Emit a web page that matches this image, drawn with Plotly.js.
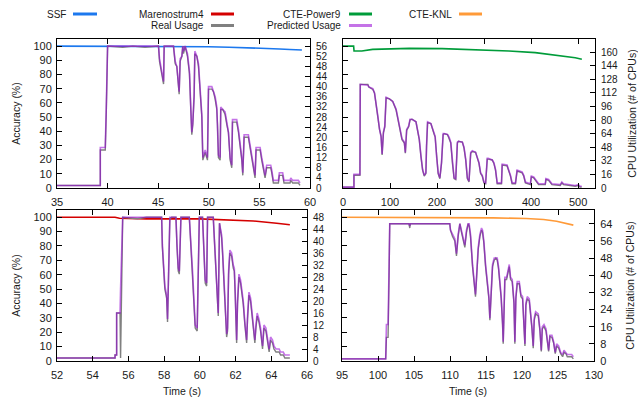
<!DOCTYPE html>
<html><head><meta charset="utf-8">
<script src="https://cdn.plot.ly/plotly-3.0.1.min.js"></script>
<style>html,body{margin:0;padding:0;background:#fff}#chart{width:638px;height:398px}</style>
</head><body><div id="chart"></div>
<script>
// ---------- Data ----------
const seriesNames = ["SSF", "Marenostrum4", "CTE-Power9", "CTE-KNL", "Real Usage", "Predicted Usage"];

// SSF (top-left)
const ssfAccTime = [35, 40, 45, 48, 50, 52, 54, 55, 56, 57, 58, 59.2];
const ssfAcc = [100, 100, 100, 99.8, 99.5, 99.2, 98.9, 98.7, 98.4, 98, 97.6, 97.2];
const ssfTime = [35, 39.28, 39.28, 39.77, 39.87, 40.0, 41.5, 42.5, 43.7, 45.03, 45.13, 45.36, 45.53, 45.59, 46.51, 46.68, 46.84, 47.07, 47.17, 47.34, 47.43, 47.5, 47.66, 47.89, 48.09, 48.22, 48.32, 48.42, 48.55, 48.62, 48.82, 48.98, 49.14, 49.31, 49.41, 49.64, 49.87, 49.97, 50.3, 50.46, 50.63, 50.79, 50.86, 50.95, 51.12, 51.18, 51.38, 51.61, 51.78, 51.94, 52.11, 52.27, 52.34, 52.76, 52.93, 53.09, 53.26, 53.36, 53.49, 53.91, 54.08, 54.24, 54.41, 54.57, 54.67, 55.07, 55.23, 55.39, 55.56, 55.72, 56.12, 56.22, 56.38, 56.88, 56.97, 57.3, 57.43, 58.03, 58.1, 58.29, 58.85, 59.01];
const ssfReal = [1, 1, 15, 15, 30, 56, 55.5, 56, 55.5, 56, 50, 45, 41, 56, 56, 49, 48, 37, 50, 52, 56, 53, 56, 52, 45, 31, 21, 25, 36, 53, 52, 48, 39, 28, 11, 14, 11, 39, 39, 38, 35, 31, 25, 12, 11, 31, 31, 29, 25, 22, 11, 8, 26, 26, 22, 17, 11, 5, 20, 20, 16, 11, 7, 4, 15, 15, 11, 7, 4, 8, 8, 6, 2, 2, 5, 5, 2, 2, 3, 2, 2, 1];
const ssfPred = [1, 1, 16, 16, 32, 56, 56, 56, 56, 56, 51, 46, 42, 56, 56, 50, 48, 38, 51, 52, 56, 54, 56, 53, 46, 32, 22, 26, 37, 54, 52, 49, 40, 29, 12, 15, 12, 40, 40, 38, 36, 32, 26, 13, 12, 32, 31, 30, 26, 22, 12, 9, 27, 27, 23, 18, 12, 6, 21, 21, 17, 12, 8, 5, 16, 16, 12, 8, 5, 9, 9, 7, 3, 3, 6, 6, 3, 3, 4, 3, 3, 2];

// CTE-Power9 (top-right)
const p9AccTime = [0, 22.6, 23.5, 40, 63, 141, 211, 282, 353, 409, 459, 494, 508];
const p9Acc = [100, 100, 96.5, 96.5, 97.7, 98.4, 98.2, 97.5, 96.5, 95.4, 93.5, 91.8, 90.7];
const p9Time = [0, 23.3, 23.3, 36, 36.7, 52.9, 55, 63.5, 67, 70.5, 74, 77.6, 81, 83.2, 86, 88.9, 91.7, 98.7, 105.8, 112.9, 118.5, 121.3, 125.5, 130.5, 132.6, 135.4, 139.7, 142.5, 146.7, 155.2, 158.7, 162.2, 165.8, 169.3, 172.8, 176.3, 177.7, 179.9, 186.9, 190.4, 194, 196, 198.9, 202.4, 206, 209.5, 213, 215.1, 222.2, 225.7, 229.2, 232.8, 236.3, 239.8, 243.3, 245.5, 253.9, 257.4, 261, 264.5, 268, 271.6, 275, 282, 285.7, 289.2, 292.7, 296.2, 299.8, 303.3, 306.8, 308.9, 317.4, 320.9, 324.4, 328, 337.1, 338.6, 349, 352.7, 356.2, 359.7, 366.8, 370.3, 380.9, 384.4, 388, 398.5, 400.6, 405.6, 409, 416, 430.2, 431.7, 437.3, 444.4, 462, 465.5, 469, 479.6, 493.7, 500.8, 504.3, 507.8];
const p9Real = [1, 1, 15, 15, 122, 122, 119, 116, 112, 100, 84, 69, 61, 39, 65, 72, 106, 105, 102, 92, 76, 70, 57, 53, 41, 68, 72, 80, 81, 78, 68, 57, 37, 21, 14, 17, 49, 77, 76, 68, 63, 60, 37, 17, 11, 29, 63, 64, 63, 59, 53, 29, 11, 10, 53, 55, 54, 47, 33, 11, 7, 41, 43, 42, 35, 29, 17, 14, 6, 5, 34, 34, 33, 29, 21, 5, 5, 27, 26, 20, 14, 5, 5, 20, 18, 14, 6, 4, 13, 12, 9, 4, 4, 10, 9, 4, 3, 6, 4, 3, 2, 3, 1, 1];
const p9Pred = [1, 1, 16, 16, 122, 121, 119, 117, 112, 101, 85, 70, 60, 40, 66, 73, 107, 105, 102, 93, 77, 70, 58, 54, 42, 69, 73, 81, 81, 78, 69, 58, 38, 22, 15, 18, 50, 78, 76, 69, 64, 61, 38, 18, 12, 30, 64, 64, 63, 60, 54, 30, 12, 11, 54, 55, 54, 48, 34, 12, 8, 42, 44, 42, 36, 30, 18, 15, 7, 6, 35, 35, 33, 30, 22, 6, 6, 28, 27, 21, 15, 6, 6, 21, 19, 15, 7, 5, 14, 13, 10, 5, 5, 11, 10, 5, 4, 7, 5, 4, 3, 4, 2, 2];

// Marenostrum4 (bottom-left)
const mnAccTime = [52, 55.25, 55.5, 57, 60, 61.9, 63, 64.3, 65.04];
const mnAcc = [100, 100, 99.3, 98.8, 98.8, 98.1, 97.4, 95.8, 94.7];
const mnTime = [52, 55.25, 55.25, 55.34, 55.34, 55.53, 55.56, 55.68, 56.5, 57, 57.86, 57.9, 57.99, 58.04, 58.14, 58.19, 58.25, 58.29, 58.32, 58.42, 58.66, 58.72, 58.79, 58.85, 58.9, 58.94, 59.41, 59.48, 59.59, 59.69, 59.74, 59.85, 59.93, 59.97, 60.15, 60.23, 60.3, 60.38, 60.43, 60.75, 60.84, 60.9, 60.97, 61.03, 61.1, 61.22, 61.27, 61.35, 61.44, 61.5, 61.55, 61.61, 61.68, 61.78, 61.87, 61.93, 61.98, 62.02, 62.06, 62.11, 62.19, 62.28, 62.34, 62.43, 62.52, 62.62, 62.67, 62.75, 62.84, 62.93, 63.03, 63.08, 63.14, 63.21, 63.31, 63.4, 63.51, 63.59, 63.7, 63.79, 63.88, 63.96, 64.07, 64.15, 64.26, 64.33, 64.44, 64.52, 64.67, 64.76, 65.04];
const mnReal = [1, 1, 2, 2, 16, 16, 1, 48, 47.5, 48, 48, 38, 29, 24, 21, 13, 29, 43, 47.5, 48, 48, 38, 30, 29, 46, 48, 48, 41, 29, 17, 11, 10, 29, 48, 48, 34, 26, 25, 48, 48, 38, 29, 22, 15, 46, 41, 36, 26, 17, 8, 10, 29, 36, 35, 31, 30, 22, 12, 6, 19, 28, 26, 23, 19, 12, 6, 14, 22, 20, 15, 10, 6, 11, 15, 13, 10, 4, 11, 10, 6, 3, 7, 6, 4, 3, 3, 3, 2, 2, 1, 1];
const mnPred = [1, 1, 2, 2, 16, 16, 24, 48, 48, 48, 48, 39, 30, 25, 22, 14, 30, 44, 48, 48, 48, 39, 31, 30, 47, 48, 48, 42, 30, 18, 12, 11, 30, 48, 48, 35, 27, 26, 48, 48, 39, 30, 23, 16, 46, 42, 37, 27, 18, 9, 11, 30, 37, 36, 32, 31, 23, 13, 7, 20, 29, 27, 24, 20, 13, 7, 15, 23, 21, 16, 11, 7, 12, 16, 14, 11, 5, 12, 11, 7, 4, 8, 7, 5, 4, 4, 4, 3, 3, 2, 2];

// CTE-KNL (bottom-right)
const knlAccTime = [95, 102.1, 109, 116, 120.6, 123, 124.8, 126.2, 127.13];
const knlAcc = [100, 100, 99.9, 99.5, 99.1, 98.4, 97.2, 95.6, 94.5];
const knlTime = [95, 101.07, 101.17, 101.4, 101.54, 101.63, 104.3, 104.41, 104.5, 109.97, 110.07, 110.35, 110.67, 110.9, 111.13, 111.37, 111.6, 111.83, 112.06, 112.29, 112.52, 112.66, 112.85, 113.13, 113.31, 113.54, 113.68, 113.92, 114.15, 114.38, 114.52, 114.7, 114.94, 115.17, 115.4, 115.54, 115.68, 115.91, 116.14, 116.37, 116.56, 116.74, 116.93, 117.11, 117.3, 117.39, 117.53, 117.62, 117.86, 118.09, 118.23, 118.41, 118.64, 118.88, 119.01, 119.15, 119.34, 119.62, 119.85, 120.08, 120.27, 120.41, 120.54, 120.73, 121.01, 121.19, 121.38, 121.56, 121.7, 121.89, 122.26, 122.49, 122.68, 122.82, 123.05, 123.33, 123.51, 123.7, 123.88, 124.16, 124.39, 124.62, 124.81, 125.09, 125.37, 125.64, 125.83, 126.11, 126.29, 126.9, 127.13];
const knlReal = [1, 1, 11, 11, 40, 64, 64, 62, 64, 64, 61, 58, 56, 49, 58, 64, 60, 57, 53, 60, 64, 63, 58, 44, 38, 30, 38, 52, 58, 61, 60, 55, 44, 36, 29, 19, 32, 44, 47, 48, 47, 43, 36, 29, 17, 8, 26, 38, 38, 43, 44, 38, 37, 27, 8, 29, 36, 36, 30, 29, 16, 7, 26, 29, 28, 22, 15, 6, 19, 22, 21, 14, 4.5, 15, 16, 14, 10, 4.5, 11.5, 11, 8.4, 3.4, 7, 6, 3.4, 2, 4, 3.4, 2, 2, 1];
const knlPred = [1, 1, 17, 17, 45, 64, 64, 63, 64, 64, 61, 59, 57, 50, 59, 64, 61, 58, 54, 61, 64, 64, 59, 45, 39, 31, 39, 53, 59, 62, 61, 56, 45, 37, 30, 20, 33, 45, 48, 48, 48, 44, 37, 30, 18, 9, 27, 39, 39, 44, 45, 39, 38, 28, 9, 30, 37, 37, 31, 30, 17, 8, 27, 30, 29, 23, 16, 7, 20, 23, 22, 15, 5, 16, 17, 15, 11, 5, 12, 12, 9, 4, 8, 7, 4, 3, 5, 4, 3, 3, 2];

// ---------- Styling ----------
const W = 638, H = 398;
const FONT = 'Liberation Sans, Arial, sans-serif';
const colors = {
  "SSF": '#1c78ee', "Marenostrum4": '#d40000', "CTE-Power9": '#009c3a', "CTE-KNL": '#ff9a38',
  "Real Usage": '#808080', "Predicted Usage": 'rgba(148,0,211,0.55)'
};
const fx = p => p / W, fy = p => 1 - p / H;

const traces = [];
function panel(xa, yl, yr, t, acc, accName, real, pred, accT) {
  traces.push({x: t, y: real, xaxis: xa, yaxis: yr, type: 'scatter', mode: 'lines',
    name: 'Real Usage', line: {color: colors['Real Usage'], width: 1.4}});
  traces.push({x: t, y: pred, xaxis: xa, yaxis: yr, type: 'scatter', mode: 'lines',
    name: 'Predicted Usage', line: {color: 'rgb(148,0,211)', width: 1.6}, opacity: 0.55});
  traces.push({x: accT, y: acc, xaxis: xa, yaxis: yl, type: 'scatter', mode: 'lines',
    name: accName, line: {color: colors[accName], width: 1.6}});
}
panel('x', 'y', 'y2', ssfTime, ssfAcc, 'SSF', ssfReal, ssfPred, ssfAccTime);
panel('x2', 'y3', 'y4', p9Time, p9Acc, 'CTE-Power9', p9Real, p9Pred, p9AccTime);
panel('x3', 'y5', 'y6', mnTime, mnAcc, 'Marenostrum4', mnReal, mnPred, mnAccTime);
panel('x4', 'y7', 'y8', knlTime, knlAcc, 'CTE-KNL', knlReal, knlPred, knlAccTime);

const base = {ticks: 'inside', ticklen: 5, tickwidth: 1, tickcolor: '#000', showline: true,
  linecolor: '#000', linewidth: 1, zeroline: false, showgrid: false, fixedrange: true,
  tickfont: {family: FONT, size: 11, color: '#1a1a1a'}};
const ax = o => Object.assign({}, base, o);
const denseFont = {family: FONT, size: 10, color: '#1a1a1a'};

const topDom = [fy(188), fy(39)], botDom = [fy(361), fy(210)];
const titleFont = {family: FONT, size: 10.5, color: '#1a1a1a'};

const layout = {
  width: W, height: H, margin: {l: 0, r: 0, t: 0, b: 0},
  paper_bgcolor: '#fff', plot_bgcolor: '#fff', showlegend: false,
  font: {family: FONT, size: 11, color: '#1a1a1a'},
  xaxis: ax({domain: [fx(57), fx(310)], anchor: 'y', range: [35, 60], dtick: 5, tick0: 35, mirror: 'ticks', ticklabelstandoff: 4}),
  yaxis: ax({domain: topDom, anchor: 'x', range: [0, 105], dtick: 10, tick0: 0, mirror: true, ticklabelstandoff: 2,
    title: {text: 'Accuracy (%)', font: titleFont, standoff: 10}}),
  yaxis2: ax({overlaying: 'y', side: 'right', anchor: 'x', range: [0, 58.8], dtick: 4, tick0: 0, ticklabelstandoff: 3, tickfont: denseFont}),

  xaxis2: ax({domain: [fx(343), fx(595)], anchor: 'y3', range: [0, 536], dtick: 100, tick0: 0, mirror: 'ticks', ticklabelstandoff: 4}),
  yaxis3: ax({domain: topDom, anchor: 'x2', range: [0, 105], dtick: 10, tick0: 0, mirror: true, showticklabels: false}),
  yaxis4: ax({overlaying: 'y3', side: 'right', anchor: 'x2', range: [0, 175.5], dtick: 16, tick0: 0, ticklabelstandoff: 3, tickfont: denseFont,
    title: {text: 'CPU Utilization (# of CPUs)', font: titleFont, standoff: 17}}),

  xaxis3: ax({domain: [fx(57), fx(307)], anchor: 'y5', range: [52, 66], dtick: 2, tick0: 52, mirror: 'ticks', ticklabelstandoff: 4,
    title: {text: 'Time (s)', font: titleFont, standoff: 7}}),
  yaxis5: ax({domain: botDom, anchor: 'x3', range: [0, 105], dtick: 10, tick0: 0, mirror: true, ticklabelstandoff: 2,
    title: {text: 'Accuracy (%)', font: titleFont, standoff: 10}}),
  yaxis6: ax({overlaying: 'y5', side: 'right', anchor: 'x3', range: [0, 50.4], dtick: 4, tick0: 0, ticklabelstandoff: 3, tickfont: denseFont}),

  xaxis4: ax({domain: [fx(342), fx(594)], anchor: 'y7', range: [95, 130], dtick: 5, tick0: 95, mirror: 'ticks', ticklabelstandoff: 4,
    title: {text: 'Time (s)', font: titleFont, standoff: 7}}),
  yaxis7: ax({domain: botDom, anchor: 'x4', range: [0, 105], dtick: 10, tick0: 0, mirror: true, showticklabels: false}),
  yaxis8: ax({overlaying: 'y7', side: 'right', anchor: 'x4', range: [0, 70.4], dtick: 8, tick0: 0, ticklabelstandoff: 3,
    title: {text: 'CPU Utilization (# of CPUs)', font: titleFont, standoff: 15}}),
  annotations: [], shapes: []
};

// Key (gnuplot-style: label then sample line)
const keyItems = [
  {name: 'SSF', tx: 68, x0: 73, x1: 97, y: 14},
  {name: 'Marenostrum4', tx: 206, x0: 211, x1: 234, y: 14},
  {name: 'Real Usage', tx: 206, x0: 211, x1: 234, y: 25.5},
  {name: 'CTE-Power9', tx: 343, x0: 349, x1: 372, y: 14},
  {name: 'Predicted Usage', tx: 343, x0: 349, x1: 372, y: 25.5},
  {name: 'CTE-KNL', tx: 454, x0: 459, x1: 482, y: 14}
];
keyItems.forEach(k => {
  layout.annotations.push({text: k.name, xref: 'paper', yref: 'paper', x: fx(k.tx), y: fy(k.y),
    xanchor: 'right', yanchor: 'middle', showarrow: false, font: {family: FONT, size: 10, color: '#1a1a1a'}});
  layout.shapes.push({type: 'line', xref: 'paper', yref: 'paper', x0: fx(k.x0), x1: fx(k.x1), y0: fy(k.y), y1: fy(k.y),
    line: {color: colors[k.name], width: 3}});
});

Plotly.newPlot('chart', traces, layout, {staticPlot: true, displayModeBar: false});
</script></body></html>
